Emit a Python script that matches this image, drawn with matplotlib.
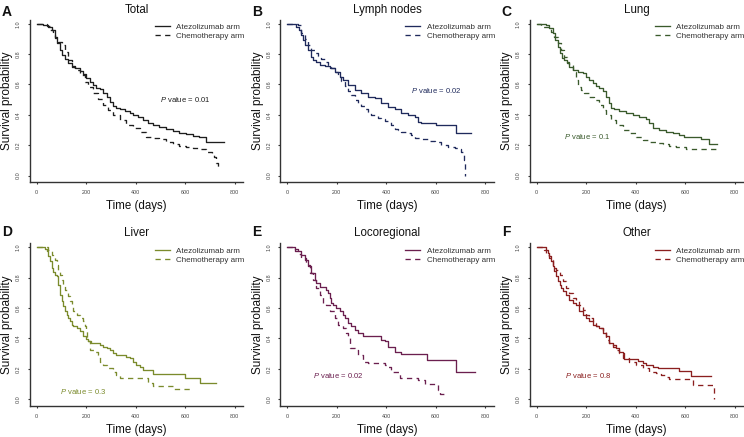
import matplotlib
matplotlib.use("Agg")
import matplotlib.pyplot as plt

plt.rcParams['font.family'] = ['Liberation Sans', 'DejaVu Sans']
plt.rcParams['mathtext.fontset'] = 'custom'
plt.rcParams['mathtext.it'] = 'Liberation Sans:italic'
plt.rcParams['mathtext.rm'] = 'Liberation Sans'

# ---------------- data (time in days, survival probability) ----------------
panel_letters = ["A", "B", "C", "D", "E", "F"]
panel_titles = ["Total", "Lymph nodes", "Lung", "Liver", "Locoregional", "Other"]
panel_colors = ["#1e1e1e", "#1f2a5c", "#3a5a2c", "#7b8b2c", "#6b1f4f", "#8b1f1f"]
p_values = ["0.01", "0.02", "0.1", "0.3", "0.02", "0.8"]
p_pos_t = [600, 600, 205, 188, 207, 209]
p_pos_s = [0.50, 0.56, 0.257, 0.053, 0.156, 0.156]
legend_labels = ["Atezolizumab arm", "Chemotherapy arm"]
x_ticks = [0, 200, 400, 600, 800]
y_ticks = [0.0, 0.2, 0.4, 0.6, 0.8, 1.0]
y_tick_labels = ["0.0", "0.2", "0.4", "0.6", "0.8", "1.0"]

a_atezo_t = [0, 27, 47, 60, 74, 83, 94, 103, 114, 127, 141, 154, 174, 188, 201, 214, 228, 241, 255, 268,
             282, 295, 308, 322, 335, 355, 375, 389, 409, 429, 449, 469, 496, 523, 550, 576, 603, 630, 657,
             684, 757]
a_atezo_s = [1.0, 0.99, 0.98, 0.958, 0.914, 0.871, 0.827, 0.794, 0.765, 0.739, 0.721, 0.708, 0.691, 0.669,
             0.640, 0.618, 0.596, 0.579, 0.568, 0.546, 0.520, 0.487, 0.458, 0.443, 0.436, 0.428, 0.410, 0.399,
             0.384, 0.366, 0.349, 0.333, 0.318, 0.305, 0.294, 0.283, 0.272, 0.263, 0.257, 0.224, 0.224]
a_chemo_t = [0, 27, 40, 54, 64, 74, 87, 101, 114, 127, 141, 154, 174, 194, 208, 228, 248, 268, 288, 308,
             335, 362, 389, 416, 442, 469, 496, 523, 550, 576, 603, 630, 657, 684, 710, 717, 724, 731]
a_chemo_s = [1.0, 0.996, 0.985, 0.958, 0.925, 0.904, 0.882, 0.860, 0.816, 0.761, 0.717, 0.695, 0.662, 0.618,
             0.581, 0.542, 0.502, 0.465, 0.432, 0.399, 0.366, 0.333, 0.311, 0.285, 0.257, 0.246, 0.241, 0.219,
             0.208, 0.197, 0.191, 0.184, 0.175, 0.158, 0.151, 0.125, 0.081, 0.048]

b_atezo_t = [0, 36, 46, 54, 63, 73, 84, 94, 104, 117, 131, 151, 171, 191, 211, 225, 245, 272, 299, 326,
             353, 380, 407, 434, 461, 488, 514, 528, 541, 602, 683, 743]
b_atezo_s = [1.0, 0.980, 0.958, 0.925, 0.893, 0.860, 0.827, 0.783, 0.761, 0.750, 0.728, 0.721, 0.706, 0.684,
             0.651, 0.629, 0.596, 0.564, 0.542, 0.520, 0.509, 0.476, 0.454, 0.436, 0.414, 0.399, 0.388, 0.355,
             0.344, 0.333, 0.279, 0.279]
b_chemo_t = [0, 43, 57, 70, 84, 97, 110, 124, 137, 151, 164, 178, 191, 205, 218, 232, 245, 259, 272, 286,
             299, 312, 326, 339, 353, 366, 380, 393, 407, 420, 434, 447, 461, 474, 488, 501, 514, 541, 568,
             595, 622, 649, 676, 690, 703, 710, 714, 717, 719]
b_chemo_s = [1.0, 0.991, 0.936, 0.90, 0.86, 0.83, 0.81, 0.79, 0.77, 0.75, 0.73, 0.71, 0.68, 0.65, 0.62,
             0.59, 0.56, 0.53, 0.50, 0.48, 0.46, 0.44, 0.42, 0.40, 0.39, 0.38, 0.37, 0.36, 0.35, 0.33, 0.31,
             0.30, 0.29, 0.285, 0.28, 0.268, 0.246, 0.239, 0.230, 0.224, 0.202, 0.186, 0.180, 0.173, 0.158,
             0.136, 0.103, 0.059, 0.0]

c_atezo_t = [0, 38, 51, 65, 75, 85, 94, 101, 112, 121, 132, 145, 166, 186, 199, 213, 226, 240, 253, 267,
             280, 294, 300, 314, 334, 361, 388, 415, 442, 455, 469, 496, 523, 550, 576, 597, 664, 698, 727]
c_atezo_s = [1.0, 0.991, 0.969, 0.936, 0.893, 0.849, 0.805, 0.772, 0.761, 0.739, 0.717, 0.695, 0.684, 0.678,
             0.651, 0.629, 0.607, 0.590, 0.575, 0.559, 0.520, 0.476, 0.443, 0.439, 0.425, 0.410, 0.399, 0.388,
             0.371, 0.349, 0.311, 0.300, 0.289, 0.279, 0.268, 0.257, 0.239, 0.208, 0.208]
c_chemo_t = [0, 18, 58, 71, 85, 98, 112, 121, 132, 145, 159, 166, 179, 193, 213, 233, 253, 267, 280, 300,
             321, 347, 374, 401, 428, 455, 482, 509, 536, 563, 603, 727]
c_chemo_s = [1.0, 0.98, 0.947, 0.914, 0.871, 0.827, 0.783, 0.750, 0.728, 0.684, 0.629, 0.586, 0.564, 0.542,
             0.520, 0.498, 0.465, 0.432, 0.399, 0.366, 0.333, 0.300, 0.279, 0.257, 0.235, 0.219, 0.213, 0.208,
             0.195, 0.186, 0.173, 0.173]

d_atezo_t = [0, 34, 40, 47, 54, 60, 67, 74, 80, 87, 94, 101, 107, 114, 121, 127, 134, 141, 147, 161, 174,
             188, 201, 208, 221, 255, 268, 282, 295, 308, 322, 349, 362, 375, 389, 402, 416, 429, 469, 600,
             660, 725]
d_atezo_s = [1.0, 0.991, 0.974, 0.941, 0.908, 0.864, 0.837, 0.820, 0.809, 0.754, 0.688, 0.644, 0.611, 0.578,
             0.556, 0.534, 0.512, 0.490, 0.479, 0.468, 0.446, 0.413, 0.398, 0.385, 0.369, 0.358, 0.347, 0.336,
             0.325, 0.303, 0.292, 0.288, 0.281, 0.270, 0.248, 0.226, 0.209, 0.193, 0.165, 0.138, 0.105, 0.105]
d_chemo_t = [0, 47, 54, 60, 67, 74, 80, 87, 94, 101, 107, 114, 121, 127, 134, 141, 147, 161, 174, 188, 194,
             201, 205, 209, 214, 235, 248, 255, 268, 282, 308, 322, 335, 449, 469, 550, 630]
d_chemo_s = [1.0, 0.985, 0.974, 0.952, 0.941, 0.919, 0.886, 0.853, 0.820, 0.787, 0.754, 0.721, 0.699, 0.677,
             0.644, 0.611, 0.578, 0.556, 0.534, 0.512, 0.479, 0.446, 0.402, 0.380, 0.325, 0.314, 0.292, 0.248,
             0.226, 0.204, 0.182, 0.160, 0.14, 0.11, 0.085, 0.065, 0.065]

e_atezo_t = [0, 30, 43, 57, 70, 84, 97, 110, 117, 131, 158, 164, 171, 178, 185, 198, 211, 225, 232, 245,
             259, 272, 286, 306, 380, 393, 407, 434, 461, 564, 683, 757]
e_atezo_s = [1.0, 0.991, 0.978, 0.952, 0.919, 0.875, 0.831, 0.787, 0.765, 0.738, 0.721, 0.699, 0.666, 0.633,
             0.618, 0.600, 0.578, 0.556, 0.534, 0.501, 0.479, 0.457, 0.435, 0.413, 0.391, 0.380, 0.347, 0.314,
             0.297, 0.259, 0.176, 0.176]
e_chemo_t = [0, 30, 43, 57, 77, 90, 104, 117, 131, 144, 158, 171, 191, 205, 225, 238, 245, 252, 272, 286,
             306, 326, 393, 407, 420, 454, 528, 555, 609, 615, 646]
e_chemo_s = [1.0, 0.974, 0.956, 0.930, 0.886, 0.831, 0.787, 0.732, 0.688, 0.633, 0.622, 0.578, 0.534, 0.490,
             0.468, 0.435, 0.413, 0.336, 0.325, 0.292, 0.248, 0.237, 0.226, 0.215, 0.182, 0.138, 0.127, 0.101,
             0.062, 0.033, 0.033]

f_atezo_t = [0, 38, 44, 51, 58, 65, 71, 78, 85, 92, 98, 105, 119, 132, 145, 159, 172, 186, 199, 213, 226,
             240, 253, 267, 280, 294, 307, 321, 334, 347, 354, 408, 428, 442, 469, 489, 576, 624, 704]
f_atezo_s = [1.0, 0.985, 0.963, 0.941, 0.908, 0.875, 0.842, 0.809, 0.776, 0.754, 0.732, 0.710, 0.688, 0.655,
             0.633, 0.622, 0.578, 0.556, 0.534, 0.512, 0.486, 0.479, 0.468, 0.435, 0.413, 0.369, 0.358, 0.336,
             0.314, 0.303, 0.266, 0.253, 0.237, 0.226, 0.211, 0.204, 0.187, 0.156, 0.156]
f_chemo_t = [0, 31, 38, 44, 51, 58, 65, 71, 78, 92, 105, 119, 132, 145, 159, 172, 186, 199, 213, 226, 240,
             253, 267, 280, 294, 307, 321, 334, 347, 374, 401, 428, 455, 482, 502, 523, 536, 630, 718, 718]
f_chemo_s = [1.0, 0.985, 0.963, 0.952, 0.930, 0.919, 0.886, 0.864, 0.853, 0.820, 0.776, 0.732, 0.699, 0.666,
             0.644, 0.622, 0.589, 0.556, 0.534, 0.501, 0.479, 0.468, 0.446, 0.391, 0.369, 0.347, 0.325, 0.303,
             0.270, 0.248, 0.226, 0.204, 0.178, 0.171, 0.160, 0.143, 0.134, 0.095, 0.095, 0.0]

atezo_curves = [(a_atezo_t, a_atezo_s), (b_atezo_t, b_atezo_s), (c_atezo_t, c_atezo_s),
                (d_atezo_t, d_atezo_s), (e_atezo_t, e_atezo_s), (f_atezo_t, f_atezo_s)]
chemo_curves = [(a_chemo_t, a_chemo_s), (b_chemo_t, b_chemo_s), (c_chemo_t, c_chemo_s),
                (d_chemo_t, d_chemo_s), (e_chemo_t, e_chemo_s), (f_chemo_t, f_chemo_s)]

# ---------------- layout ----------------
W, H = 744, 437
fig = plt.figure(figsize=(W / 100, H / 100), dpi=100)
col_left_px = [29.8, 280.4, 529.8]
ax_w_px = 213.6
row_top_px = [19.9, 243.5]
ax_h_px = 162.4
spine_col = "#333333"
tick_col = "#444444"
dash = (0, (4, 3.3))

for i in range(6):
    r, c = divmod(i, 3)
    left = col_left_px[c] / W
    bottom = 1 - (row_top_px[r] + ax_h_px) / H
    ax = fig.add_axes([left, bottom, ax_w_px / W, ax_h_px / H])
    col = panel_colors[i]
    ta, sa = atezo_curves[i]
    tc, sc = chemo_curves[i]
    ax.plot(ta, sa, drawstyle="steps-post", color=col, lw=0.95, label=legend_labels[0])
    ax.plot(tc, sc, drawstyle="steps-post", color=col, lw=0.95, linestyle=dash, label=legend_labels[1])

    ax.set_xlim(-28, 835)
    ax.set_ylim(-0.044, 1.025)
    ax.set_xticks(x_ticks)
    ax.set_xticklabels([str(v) for v in x_ticks])
    ax.set_yticks(y_ticks)
    ax.set_yticklabels(y_tick_labels, rotation=90, va="center")
    for s in ["top", "right"]:
        ax.spines[s].set_visible(False)
    for s in ["left", "bottom"]:
        ax.spines[s].set_color(spine_col)
        ax.spines[s].set_linewidth(1.0)
    ax.tick_params(axis="both", length=1.7, width=0.8, color=spine_col, labelsize=3.9,
                   labelcolor=tick_col)
    ax.tick_params(axis="y", pad=4.8)
    ax.tick_params(axis="x", pad=4.0)

    ax.set_title(panel_titles[i], fontsize=8.3, pad=5.2, color="#111111")
    ax.set_xlabel("Time (days)", fontsize=8.3, color="#111111")
    ax.set_ylabel("Survival probability", fontsize=8.5, color="#111111")
    ax.xaxis.set_label_coords(0.5, -0.11)
    ax.yaxis.set_label_coords(-0.077, 0.5)

    ax.text(p_pos_t[i], p_pos_s[i], r"$P$ value = " + p_values[i], color=col, fontsize=5.5,
            ha="center", va="center")

    leg = ax.legend(loc="upper left", bbox_to_anchor=(0.585, 0.978), frameon=False, fontsize=5.8,
                    handlelength=1.86, handletextpad=0.83, labelspacing=0.15, borderpad=0,
                    borderaxespad=0)
    for t in leg.get_texts():
        t.set_color("#333333")

    fig.text((col_left_px[c] - 28.1) / W, 1 - (16.0 + 220.3 * r) / H, panel_letters[i],
             fontsize=10, fontweight="bold", va="baseline", ha="left", color="#111111")

fig.savefig("out.png", dpi=100)
